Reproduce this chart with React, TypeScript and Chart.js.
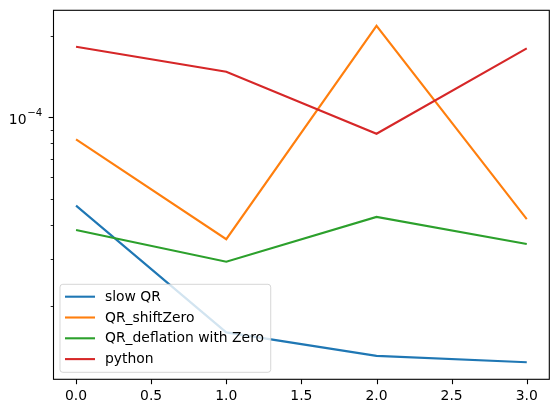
import React, { useEffect, useRef } from 'react';
import { Chart, registerables } from 'chart.js';

Chart.register(...registerables);

const xValues = [0, 1, 2, 3];
const seriesNames = ['slow QR', 'QR_shiftZero', 'QR_deflation with Zero', 'python'];
const slowQR = [4.71e-5, 1.6e-5, 1.31e-5, 1.24e-5];
const qrShiftZero = [8.29e-5, 3.54e-5, 2.18e-4, 4.2e-5];
const qrDeflationZero = [3.83e-5, 2.92e-5, 4.28e-5, 3.4e-5];
const pythonTimes = [1.825e-4, 1.475e-4, 8.69e-5, 1.8e-4];
const seriesColors = ['#1f77b4', '#ff7f0e', '#2ca02c', '#d62728'];
const xTicks = [0, 0.5, 1, 1.5, 2, 2.5, 3];
const yMajorTicks = [1e-4];
const yMinorTicks = [2e-5, 3e-5, 4e-5, 5e-5, 6e-5, 7e-5, 8e-5, 9e-5, 2e-4];

const FONT = 'DejaVu Sans';
const FONT_SIZE = 13.9;
const SUP_SIZE = 10.2;

const isMajor = (v: number) => yMajorTicks.some((m) => Math.abs(Math.log10(v) - Math.log10(m)) < 1e-6);

const framePlugin = {
  id: 'mplFrame',
  afterDraw(chart: any) {
    const { ctx, chartArea } = chart;
    const { left, right, top, bottom } = chartArea;
    ctx.save();
    ctx.strokeStyle = '#000';
    // tick marks
    const xs = chart.scales.x;
    ctx.lineWidth = 1.1;
    xs.ticks.forEach((t: any) => {
      const px = Math.round(xs.getPixelForValue(t.value)) + 0.5;
      ctx.beginPath();
      ctx.moveTo(px, bottom);
      ctx.lineTo(px, bottom + 4.9);
      ctx.stroke();
    });
    const ys = chart.scales.y;
    ys.ticks.forEach((t: any) => {
      const major = isMajor(t.value);
      const yRaw = ys.getPixelForValue(t.value);
      const py = Math.round(yRaw) + 0.5;
      ctx.strokeStyle = '#000';
      ctx.lineWidth = major ? 1.1 : 0.85;
      ctx.beginPath();
      ctx.moveTo(left, py);
      ctx.lineTo(left - (major ? 4.9 : 2.8), py);
      ctx.stroke();
      if (major) {
        const exp = Math.round(Math.log10(t.value));
        const base = '10';
        const sup = (exp < 0 ? '\u2212' : '') + Math.abs(exp).toString();
        ctx.fillStyle = '#000';
        ctx.textAlign = 'left';
        ctx.textBaseline = 'alphabetic';
        ctx.font = `${SUP_SIZE}px '${FONT}'`;
        const supW = ctx.measureText(sup).width;
        ctx.font = `${FONT_SIZE}px '${FONT}'`;
        const baseW = ctx.measureText(base).width;
        const rightEdge = left - 11.2;
        const x0 = rightEdge - supW - baseW - 0.8;
        ctx.fillText(base, x0, yRaw + 6.7);
        ctx.font = `${SUP_SIZE}px '${FONT}'`;
        ctx.fillText(sup, x0 + baseW + 0.8, yRaw - 1.6);
      }
    });
    // frame
    ctx.strokeStyle = '#000';
    ctx.lineWidth = 1.1;
    ctx.strokeRect(left, top, right - left, bottom - top);

    // legend (lower left, inside axes)
    const ds = chart.data.datasets;
    ctx.font = `${FONT_SIZE}px '${FONT}'`;
    let maxW = 0;
    ds.forEach((d: any) => {
      maxW = Math.max(maxW, ctx.measureText(d.label).width);
    });
    const boxW = 45 + maxW + 6.7;
    const rowH = 20.8;
    const boxH = 88;
    const bx = left + 6.5;
    const by = bottom - 7 - boxH;
    const r = 2.8;
    ctx.beginPath();
    ctx.moveTo(bx + r, by);
    ctx.lineTo(bx + boxW - r, by);
    ctx.quadraticCurveTo(bx + boxW, by, bx + boxW, by + r);
    ctx.lineTo(bx + boxW, by + boxH - r);
    ctx.quadraticCurveTo(bx + boxW, by + boxH, bx + boxW - r, by + boxH);
    ctx.lineTo(bx + r, by + boxH);
    ctx.quadraticCurveTo(bx, by + boxH, bx, by + boxH - r);
    ctx.lineTo(bx, by + r);
    ctx.quadraticCurveTo(bx, by, bx + r, by);
    ctx.closePath();
    ctx.fillStyle = 'rgba(255,255,255,0.8)';
    ctx.fill();
    ctx.strokeStyle = 'rgba(204,204,204,0.8)';
    ctx.lineWidth = 1;
    ctx.stroke();
    ds.forEach((d: any, i: number) => {
      const cy = by + 12.4 + i * rowH;
      ctx.strokeStyle = d.borderColor;
      ctx.lineWidth = 2.1;
      ctx.beginPath();
      ctx.moveTo(bx + 5, cy);
      ctx.lineTo(bx + 35, cy);
      ctx.stroke();
      ctx.fillStyle = '#000';
      ctx.textBaseline = 'middle';
      ctx.textAlign = 'left';
      ctx.fillText(d.label, bx + 45, cy + 0.5);
    });
    ctx.restore();
  },
};

export default function App() {
  const ref = useRef<HTMLCanvasElement>(null);
  useEffect(() => {
    if (!ref.current) return;
    const series = [slowQR, qrShiftZero, qrDeflationZero, pythonTimes];
    const chart = new Chart(ref.current, {
      type: 'line',
      data: {
        datasets: series.map((vals, i) => ({
          label: seriesNames[i],
          data: vals.map((v, j) => ({ x: xValues[j], y: v })),
          borderColor: seriesColors[i],
          backgroundColor: seriesColors[i],
          borderWidth: 2.1,
          pointRadius: 0,
          fill: false,
          tension: 0,
          order: series.length - i,
        })),
      },
      options: {
        animation: false,
        responsive: true,
        maintainAspectRatio: false,
        layout: { padding: { top: 10.3, right: 9.7, left: 0, bottom: 0 } },
        plugins: { legend: { display: false }, tooltip: { enabled: false } },
        scales: {
          x: {
            type: 'linear',
            min: -0.15,
            max: 3.15,
            grid: { display: false, drawTicks: false },
            border: { display: false },
            afterBuildTicks: (s: any) => {
              s.ticks = xTicks.map((v) => ({ value: v }));
            },
            afterFit: (s: any) => {
              s.height = 33.7;
              s.paddingLeft = 0;
              s.paddingRight = 0;
            },
            ticks: {
              autoSkip: false,
              maxRotation: 0,
              padding: 9,
              color: '#000',
              font: { family: FONT, size: FONT_SIZE },
              callback: (v: any) => Number(v).toFixed(1),
            },
          },
          y: {
            type: 'logarithmic',
            min: 1.073e-5,
            max: 2.488e-4,
            grid: { display: false, drawTicks: false },
            border: { display: false },
            afterBuildTicks: (s: any) => {
              s.ticks = [...yMinorTicks, ...yMajorTicks]
                .sort((a, b) => a - b)
                .map((v) => ({ value: v, major: isMajor(v) }));
            },
            afterFit: (s: any) => {
              s.width = 53.5;
              s.paddingTop = 0;
              s.paddingBottom = 0;
            },
            ticks: {
              autoSkip: false,
              padding: 11,
              color: '#000',
              font: { family: FONT, size: FONT_SIZE },
              callback: () => '',
            },
          },
        },
      },
      plugins: [framePlugin],
    } as any);
    return () => chart.destroy();
  }, []);
  return (
    <div style={{ position: 'absolute', left: 0, top: 0, width: 559, height: 413, background: '#fff' }}>
      <canvas ref={ref} />
    </div>
  );
}
